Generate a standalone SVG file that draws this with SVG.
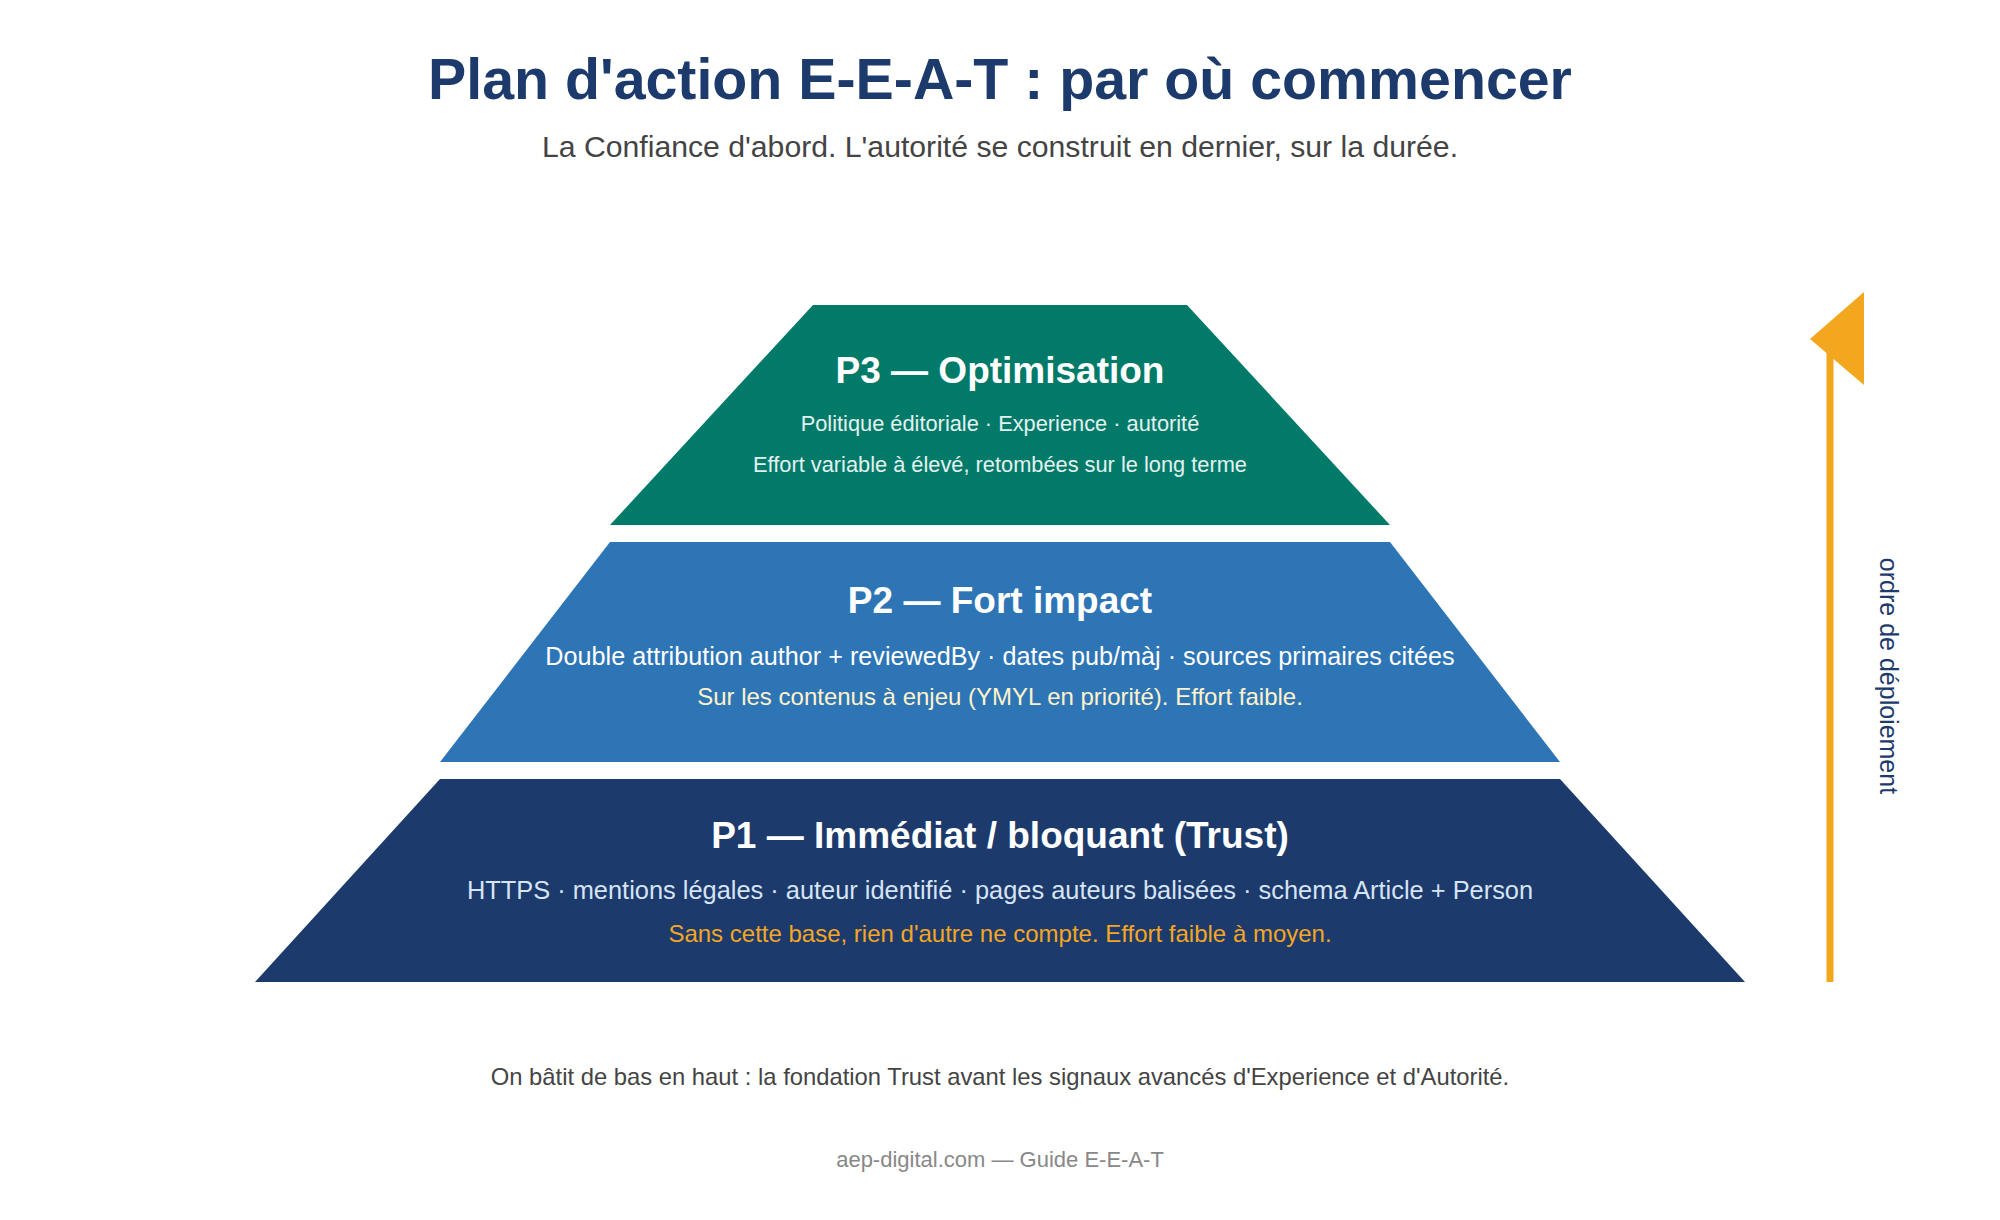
<svg xmlns="http://www.w3.org/2000/svg" width="2000" height="1220" viewBox="0 0 2000 1220">
<style>
text{font-family:"Liberation Sans",Arial,sans-serif;text-anchor:middle}
.h{font-weight:bold;fill:#fff;font-size:37px}
.title{font-weight:bold;fill:#1C3A6B;font-size:57.3px}
.sub{fill:#444;font-size:30.2px}
</style>
<rect width="2000" height="1220" fill="#fff"/>
<text class="title" x="1000" y="99">Plan d'action E-E-A-T : par où commencer</text>
<text class="sub" x="1000" y="156.5">La Confiance d'abord. L'autorité se construit en dernier, sur la durée.</text>
<g id="p3">
<polygon points="813,305 1187,305 1390,525 610,525" fill="#027A6A"/>
<text class="h" x="1000" y="383">P3 — Optimisation</text>
<text x="1000" y="430.5" fill="#E3F2EF" font-size="21.8">Politique éditoriale · Experience · autorité</text>
<text x="1000" y="471.5" fill="#E3F2EF" font-size="21.8">Effort variable à élevé, retombées sur le long terme</text>
</g>
<g id="p2">
<polygon points="610,542 1390,542 1560,762 440,762" fill="#2E75B6"/>
<text class="h" x="1000" y="613">P2 — Fort impact</text>
<text x="1000" y="664.5" fill="#fff" font-size="25.2">Double attribution author + reviewedBy · dates pub/màj · sources primaires citées</text>
<text x="1000" y="705" fill="#FFF2CC" font-size="24">Sur les contenus à enjeu (YMYL en priorité). Effort faible.</text>
</g>
<g id="p1">
<polygon points="440,779 1560,779 1745,982 255,982" fill="#1C3A6B"/>
<text class="h" x="1000" y="847.5">P1 — Immédiat / bloquant (Trust)</text>
<text x="1000" y="898.5" fill="#D6E4F5" font-size="25.4">HTTPS · mentions légales · auteur identifié · pages auteurs balisées · schema Article + Person</text>
<text x="1000" y="941.5" fill="#F5A623" font-size="24">Sans cette base, rien d'autre ne compte. Effort faible à moyen.</text>
</g>
<g id="connectors">
<line x1="1830" y1="345" x2="1830" y2="982" stroke="#F2A71E" stroke-width="7"/>
<polygon points="1864,292 1810,339 1864,385" fill="#F2A71E"/>
</g>
<text transform="translate(1880,676) rotate(90)" fill="#1C3A6B" font-size="25">ordre de déploiement</text>
<text x="1000" y="1084.5" fill="#444" font-size="23.8">On bâtit de bas en haut : la fondation Trust avant les signaux avancés d'Experience et d'Autorité.</text>
<text x="1000" y="1166.5" fill="#888" font-size="22">aep-digital.com — Guide E-E-A-T</text>
</svg>
